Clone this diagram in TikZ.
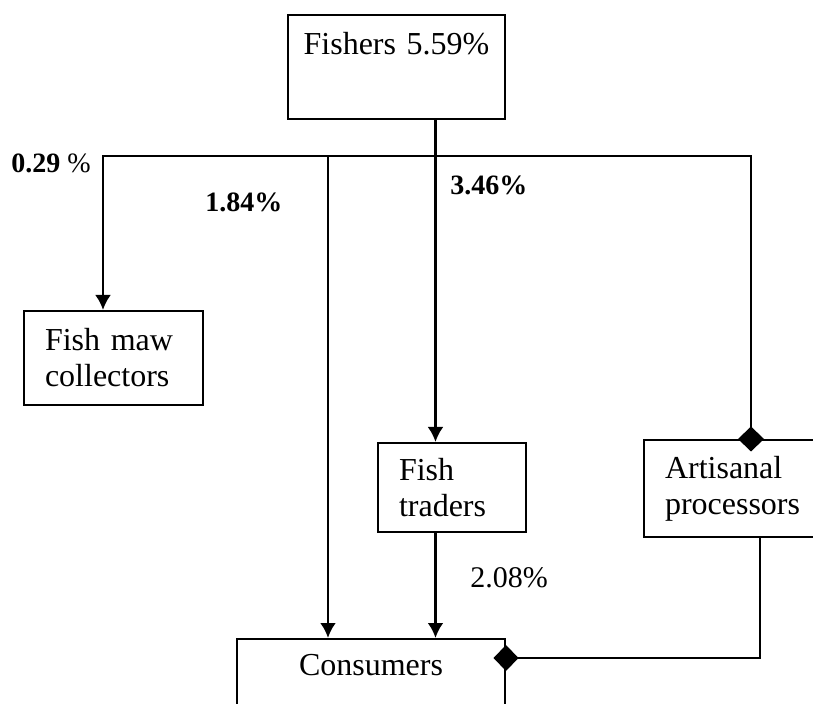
\documentclass[tikz,border=0pt]{standalone}
\usepackage{fontspec}
\setmainfont{Liberation Serif}
\usetikzlibrary{arrows.meta}
\newcommand{\chainfont}{\fontsize{16}{18}\selectfont}
\newcommand{\sharefont}{\fontsize{14}{16}\selectfont}
\tikzset{
  % boxes of the marketing chain
  box/.style={draw, line width=1pt, anchor=north west,
    inner xsep=10.5pt, inner ysep=0pt, align=left, font=\chainfont},
  % arrow from one actor to the next
  flow arrow/.style={line width=1.4pt, -{Latex[length=7.5pt,width=8pt]}},
  % diamond sitting on the border of a box
  diamond end/.style={line width=1.4pt, -{Diamond[length=12.5pt,width=13pt]},
    shorten >=-6.25pt},
  % share labels
  share/.style={anchor=base west, inner sep=0pt, font=\sharefont},
}

\begin{document}
\begin{tikzpicture}[x=0.5pt, y=-0.5pt]
\useasboundingbox (0,0) rectangle (813,704);

% Boxes
\node[box, align=center, inner xsep=3pt, text width=102.5pt, minimum height=52pt] (fishers) at (287,14) {Fishers 5.59\%\\ \strut};
\node[box, text width=68.5pt, minimum height=47pt] (maw) at (23,310) {Fish maw\\collectors};
\node[box, text width=53pt, minimum height=44.5pt] (traders) at (377,442) {Fish\\traders};
\node[box, text width=72pt, minimum height=48.5pt] (artisanal) at (643,439) {Artisanal\\processors};
\node[box, align=center, text width=113pt, minimum height=49pt] (consumers) at (236,638) {Consumers\\ \strut};

% Junctions
\coordinate (jmaw) at (103,156);
\coordinate (jcons) at (328,156);
\coordinate (jfish) at (435.5,156);
\coordinate (jart) at (751,156);
\coordinate (jout) at (760,658);

% Connectors
\draw[flow arrow] (jart) -- (jmaw) -- (jmaw |- maw.north);
\draw[diamond end] (jmaw) -- (jart) -- (jart |- artisanal.north);
\draw[flow arrow] (jcons) -- (jcons |- consumers.north);
\draw[flow arrow] (fishers.south -| jfish) -- (jfish |- traders.north);
\draw[flow arrow] (traders.south -| jfish) -- (jfish |- consumers.north);
\draw[diamond end] (artisanal.south -| jout) -- (jout) -- (consumers.east |- jout);

% Shares
\node[share] (smaw) at (11,173) {\textbf{0.29} \%};
\node[share] (scons) at (205,212) {\textbf{1.84\%}};
\node[share] (sfish) at (450,195) {\textbf{3.46\%}};
\node[share] (strade) at (470,588) {\fontsize{15}{16}\selectfont 2.08\%};

\end{tikzpicture}
\end{document}
